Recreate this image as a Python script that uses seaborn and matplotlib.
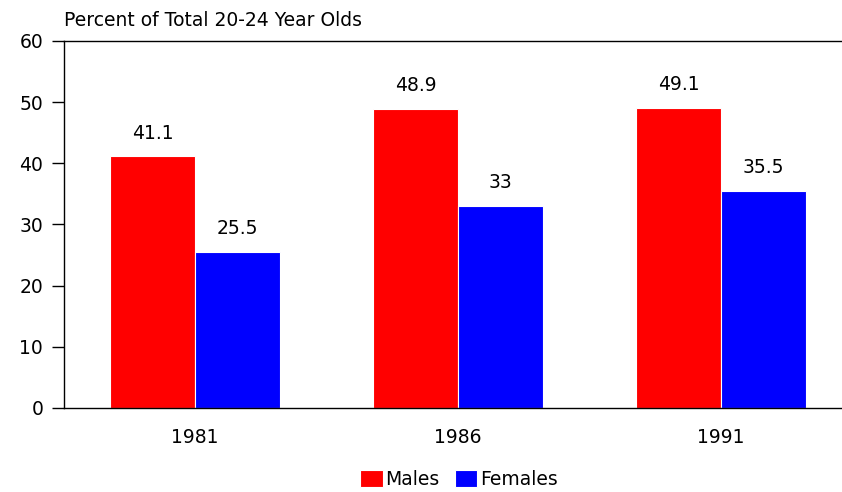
import pandas as pd
import seaborn as sns
import matplotlib.pyplot as plt

years = ['1981', '1986', '1991']
males = [41.1, 48.9, 49.1]
females = [25.5, 33, 35.5]
value_labels = {'Males': ['41.1', '48.9', '49.1'], 'Females': ['25.5', '33', '35.5']}

df = pd.DataFrame({
	'year': years * 2,
	'sex': ['Males'] * 3 + ['Females'] * 3,
	'pct': males + females,
})

sns.set_style('white')
plt.rcParams['font.family'] = ['DejaVu Sans']
plt.rcParams['text.color'] = 'black'
plt.rcParams['xtick.color'] = 'black'
plt.rcParams['ytick.color'] = 'black'
fs = 13.5

fig = plt.figure(figsize=(8.42, 4.92), dpi=100)
ax = fig.add_axes([0.076, 0.171, 0.924, 0.746])
sns.barplot(data=df, x='year', y='pct', hue='sex', palette={'Males': '#ff0000', 'Females': '#0000ff'},
	width=0.646, saturation=1, edgecolor='white', linewidth=0.8, ax=ax)

for cont, sex in zip(ax.containers, ['Males', 'Females']):
	for bar, lab in zip(cont, value_labels[sex]):
		ax.annotate(lab, (bar.get_x() + bar.get_width() / 2, bar.get_height()),
			xytext=(0, 10), textcoords='offset points', ha='center', va='bottom', fontsize=fs)

ax.set_ylim(0, 60)
ax.set_xlim(-0.498, 2.46)
ax.set_yticks(range(0, 61, 10))
ax.tick_params(axis='y', left=True, length=9, width=1, labelsize=fs, pad=6)
ax.tick_params(axis='x', bottom=False, labelsize=fs, pad=11)
ax.set_xlabel('')
ax.set_ylabel('')
for s in ['top', 'left', 'bottom']:
	ax.spines[s].set_color('black')
	ax.spines[s].set_linewidth(1)
ax.spines['right'].set_visible(False)

fig.text(0.076, 0.958, 'Percent of Total 20-24 Year Olds', fontsize=fs, ha='left', va='center')

ax.legend_.remove()
handles, labels = ax.get_legend_handles_labels()
fig.legend(handles, labels, loc='center', bbox_to_anchor=(0.545, 0.025), ncol=2, frameon=False,
	fontsize=fs, handlelength=1.2, handleheight=1.0, handletextpad=0.15, columnspacing=0.8)

fig.savefig('out.png', dpi=100)
